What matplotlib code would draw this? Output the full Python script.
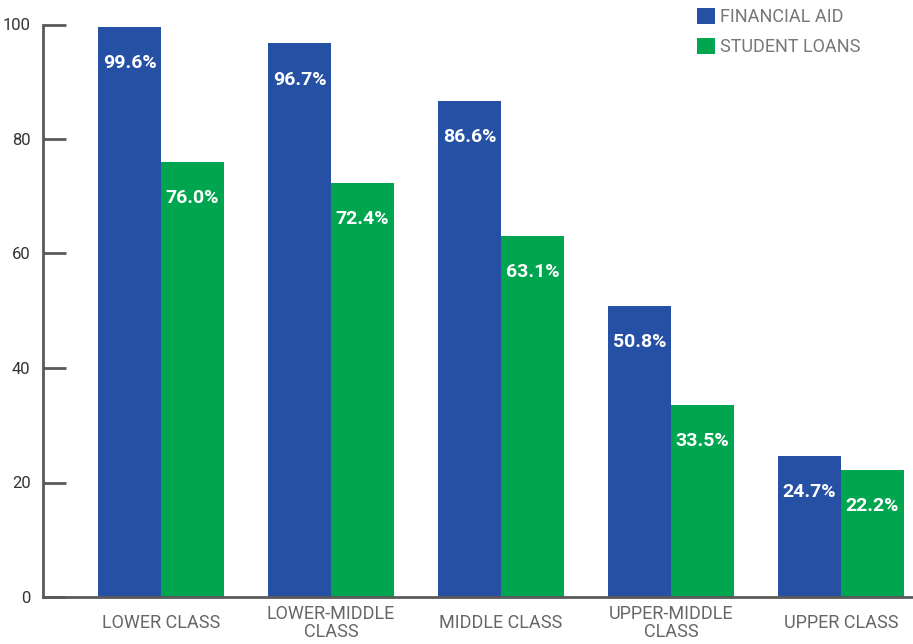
import matplotlib
matplotlib.use("Agg")
import matplotlib.pyplot as plt
import numpy as np

plt.rcParams['font.family'] = ['Roboto', 'DejaVu Sans']

categories = ["LOWER CLASS", "LOWER-MIDDLE\nCLASS", "MIDDLE CLASS", "UPPER-MIDDLE\nCLASS", "UPPER CLASS"]
financial_aid = [99.6, 96.7, 86.6, 50.8, 24.7]
student_loans = [76.0, 72.4, 63.1, 33.5, 22.2]
series_names = ["FINANCIAL AID", "STUDENT LOANS"]

BLUE = "#2550a4"
GREEN = "#00a64f"
AXIS = "#5a5a5a"

fig = plt.figure(figsize=(9.13, 6.44), dpi=100)
ax = fig.add_axes([43 / 913, 47 / 644, 870 / 913, 572.5 / 644])

x = np.arange(len(categories))
w = 0.37
b1 = ax.bar(x - w / 2, financial_aid, w, color=BLUE, label=series_names[0])
b2 = ax.bar(x + w / 2, student_loans, w, color=GREEN, label=series_names[1])

for bars, vals in [(b1, financial_aid), (b2, student_loans)]:
    for r, v in zip(bars, vals):
        ax.annotate(f"{v:.1f}%", (r.get_x() + r.get_width() / 2, v),
                    xytext=(0, -26), textcoords="offset points",
                    ha="center", va="center", color="white",
                    fontsize=14, fontweight="bold")

ax.set_xlim(-0.694, 4.424)
ax.set_ylim(0, 100)
ax.set_yticks([0, 20, 40, 60, 80, 100])
ax.set_xticks(x)
ax.set_xticklabels(categories, color="#666666", fontsize=13, linespacing=1.0)
for t in ax.get_xticklabels():
    t.set_va("center")
ax.tick_params(axis="x", length=0, pad=19)
ax.tick_params(axis="y", direction="in", length=16.5, width=2, color=AXIS,
               labelsize=12, labelcolor="#333333", pad=9)

for s in ["top", "right"]:
    ax.spines[s].set_visible(False)
for s in ["left", "bottom"]:
    ax.spines[s].set_color(AXIS)
    ax.spines[s].set_linewidth(2)

leg = ax.legend(loc="upper left", bbox_to_anchor=(0.733, 1.057), frameon=False,
                fontsize=13, handlelength=1.0, handleheight=1.0,
                handletextpad=0.3, labelspacing=0.65)
for t in leg.get_texts():
    t.set_color("#777777")

fig.savefig("out.png", dpi=100)
